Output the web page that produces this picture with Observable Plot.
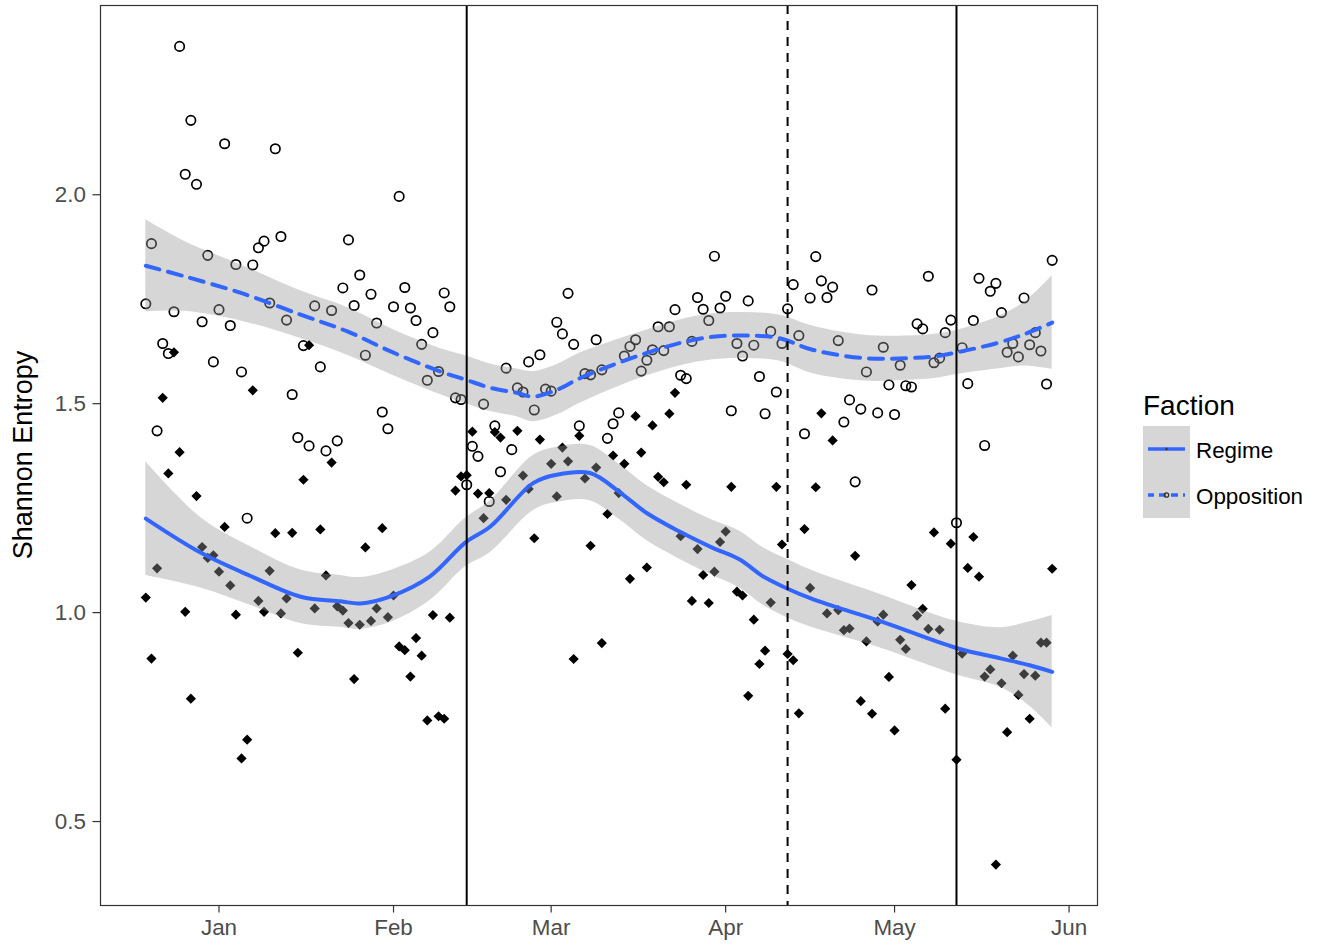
<!DOCTYPE html>
<html>
<head>
<meta charset="utf-8">
<script src="https://cdn.jsdelivr.net/npm/d3@7"></script>
<script src="https://cdn.jsdelivr.net/npm/@observablehq/plot@0.6"></script>
<style>
  html, body { margin: 0; padding: 0; background: white; }
  #chart { position: relative; width: 1331px; height: 946px; }
</style>
</head>
<body>
<div id="chart"></div>
<script>
// ---- Data (daily values, first day = 2012-12-19) ----
const firstDay = "2012-12-19";

const opposition = [
  1.739,1.883,1.435,1.644,1.620,1.720,2.355,2.049,2.178,2.025,
  1.696,1.855,1.600,1.725,2.122,1.687,1.833,1.576,1.226,1.832,
  1.873,1.889,1.741,2.110,1.900,1.700,1.522,1.419,1.639,1.399,
  1.734,1.588,1.387,1.723,1.411,1.777,1.892,1.735,1.808,1.616,
  1.762,1.693,1.480,1.440,1.732,1.996,1.778,1.729,1.699,1.642,
  1.556,1.670,1.577,1.765,1.732,1.514,1.510,1.306,1.398,1.374,
  1.499,1.266,1.447,1.337,1.585,1.390,1.538,1.528,1.600,1.485,
  1.617,1.535,1.530,1.695,1.667,1.764,1.642,1.447,1.572,1.569,
  1.653,1.581,1.417,1.452,1.478,1.614,1.637,1.653,1.578,1.604,
  1.629,1.684,1.627,1.684,1.725,1.568,1.560,1.649,1.754,1.726,
  1.699,1.853,1.729,1.757,1.483,1.644,1.614,1.746,1.640,1.565,
  1.476,1.673,1.528,1.644,1.727,1.785,1.663,1.428,1.753,1.852,
  1.794,1.754,1.779,1.651,1.456,1.509,1.313,1.487,1.576,1.772,
  1.478,1.635,1.545,1.474,1.592,1.543,1.540,1.691,1.679,1.805,
  1.598,1.609,1.670,1.700,1.215,1.634,1.548,1.699,1.800,1.400,
  1.769,1.788,1.718,1.623,1.644,1.612,1.753,1.641,1.670,1.626,
  1.547,1.843
];

const regime = [
  1.036,0.890,1.106,1.514,1.333,1.623,1.384,1.002,0.794,1.279,
  1.157,1.131,1.137,1.098,1.205,1.065,0.995,0.651,0.696,1.532,
  1.028,1.002,1.100,1.190,0.998,1.034,1.191,0.904,1.318,1.640,
  1.010,1.199,1.089,1.359,1.015,1.005,0.975,0.841,0.971,1.156,
  0.980,1.010,1.202,0.989,1.041,0.919,0.910,0.847,0.939,0.897,
  0.742,0.994,0.752,0.746,0.988,1.292,1.326,1.329,1.433,1.285,
  1.226,1.286,1.432,1.419,1.270,null,1.435,1.328,1.296,1.178,
  1.414,null,1.356,1.278,1.395,1.362,0.889,1.423,1.321,1.160,
  1.347,0.927,1.236,1.376,1.286,1.356,1.081,1.470,1.383,1.108,
  1.448,1.325,1.312,1.476,1.526,1.183,1.306,1.028,1.152,1.090,
  1.023,1.098,1.169,1.194,1.301,1.050,1.041,0.801,0.983,0.877,
  0.909,1.024,1.301,1.163,0.901,0.886,0.759,1.200,1.059,1.300,
  1.477,0.998,1.412,1.006,0.958,0.962,1.136,0.788,0.931,0.758,
  0.979,0.995,0.846,0.718,0.935,0.913,1.066,0.993,1.009,0.961,
  1.192,0.959,0.770,1.165,0.648,0.902,1.107,1.181,1.086,0.847,
  0.864,0.397,0.831,0.714,0.897,0.803,0.853,0.746,0.849,0.928,
  0.928,1.105
];

// Smoothed (loess) curves: day offset, fit, lower, upper
const oppSmoothDay = [0,6.8,16.9,27.5,35.8,43.5,52.3,56.9,61.2,65.9,68.8,73,77.1,83,88.9,94.8,100.7,106.6,112.5,118.4,127.6,135.3,140,144.1,151.2,156,161];
const oppSmoothFit = [1.830,1.805,1.765,1.713,1.673,1.625,1.577,1.557,1.538,1.526,1.517,1.533,1.561,1.593,1.621,1.645,1.660,1.663,1.657,1.629,1.609,1.609,1.613,1.623,1.645,1.666,1.694];
const oppSmoothLo  = [1.720,1.721,1.698,1.656,1.616,1.570,1.522,1.500,1.481,1.469,1.457,1.473,1.501,1.536,1.566,1.590,1.605,1.608,1.602,1.572,1.554,1.556,1.560,1.570,1.583,1.590,1.582];
const oppSmoothHi  = [1.940,1.889,1.832,1.770,1.730,1.680,1.632,1.614,1.595,1.583,1.577,1.593,1.621,1.650,1.676,1.700,1.715,1.718,1.712,1.686,1.664,1.662,1.666,1.676,1.707,1.742,1.806];

const regSmoothDay = [0,9.8,18.7,27.5,34.6,38.1,43.5,50.5,56.7,61.2,68.8,73,78.9,84.2,88.9,94.8,100.7,105.5,109.6,113.7,118.7,130.6,143.8,152,157,161];
const regSmoothFit = [1.225,1.143,1.087,1.038,1.027,1.022,1.039,1.087,1.167,1.206,1.310,1.330,1.334,1.288,1.239,1.194,1.155,1.127,1.087,1.059,1.031,0.979,0.916,0.890,0.874,0.858];
const regSmoothLo  = [1.089,1.059,1.017,0.974,0.965,0.960,0.977,1.029,1.109,1.144,1.244,1.264,1.268,1.222,1.173,1.128,1.089,1.059,1.018,0.989,0.963,0.915,0.852,0.820,0.776,0.724];
const regSmoothHi  = [1.361,1.227,1.157,1.102,1.089,1.084,1.101,1.145,1.225,1.268,1.376,1.396,1.400,1.354,1.305,1.260,1.221,1.195,1.156,1.129,1.099,1.043,0.980,0.964,0.978,0.993];

// Event lines
const eventDates = ["2013-02-14","2013-04-12","2013-05-12"];
const eventDashed = [false, true, false];

// Axis ticks
const monthTicks = ["2013-01-01","2013-02-01","2013-03-01","2013-04-01","2013-05-01","2013-06-01"];
const yTicks = [0.5, 1.0, 1.5, 2.0];

// Legend
const legendTitle = "Faction";
const legendLabels = ["Regime", "Opposition"];

// ---- Build tables ----
const t0 = new Date(firstDay + "T00:00:00Z").getTime();
const DAY = 864e5;
const dayDate = (d) => new Date(t0 + d * DAY);

const oppPts = opposition.map((v, i) => ({date: dayDate(i), value: v}));
const regPts = regime.map((v, i) => ({date: dayDate(i), value: v})).filter(d => d.value != null);

const oppSmooth = oppSmoothDay.map((d, i) => ({date: dayDate(d), fit: oppSmoothFit[i], lo: oppSmoothLo[i], hi: oppSmoothHi[i]}));
const regSmooth = regSmoothDay.map((d, i) => ({date: dayDate(d), fit: regSmoothFit[i], lo: regSmoothLo[i], hi: regSmoothHi[i]}));

const events = eventDates.map((s, i) => ({date: new Date(s + "T00:00:00Z"), dashed: eventDashed[i]}));

// ggplot-like 5% expansion of the data range
const nDays = opposition.length - 1;
const xPad = nDays * 0.05;
const xDomain = [dayDate(-xPad), dayDate(nDays + xPad)];
const allVals = opposition.concat(regime).filter(v => v != null);
const [ymin, ymax] = d3.extent(allVals);
const yPad = (ymax - ymin) * 0.05;
const yDomain = [ymin - yPad, ymax + yPad];

const FONT = "'Liberation Sans', Arial, Helvetica, sans-serif";
const BLUE = "#3366FF";

const chart = Plot.plot({
  width: 1331,
  height: 946,
  marginLeft: 100,
  marginRight: 234,
  marginTop: 5,
  marginBottom: 41,
  style: {fontFamily: FONT, background: "white", overflow: "visible"},
  x: {type: "utc", domain: xDomain},
  y: {domain: yDomain},
  marks: [
    Plot.dot(oppPts, {x: "date", y: "value", r: 4.7, stroke: "black", strokeWidth: 1.7, fill: "none"}),
    Plot.dot(regPts, {x: "date", y: "value", r: 4.6, symbol: "diamond2", fill: "black", stroke: "none"}),
    Plot.areaY(regSmooth, {x: "date", y1: "lo", y2: "hi", fill: "#999999", fillOpacity: 0.4, curve: "catmull-rom"}),
    Plot.line(regSmooth, {x: "date", y: "fit", stroke: BLUE, strokeWidth: 4, curve: "catmull-rom"}),
    Plot.areaY(oppSmooth, {x: "date", y1: "lo", y2: "hi", fill: "#999999", fillOpacity: 0.4, curve: "catmull-rom"}),
    Plot.line(oppSmooth, {x: "date", y: "fit", stroke: BLUE, strokeWidth: 4, strokeDasharray: "14,9", curve: "catmull-rom"}),
    Plot.ruleX(events.filter(e => !e.dashed), {x: "date", stroke: "black", strokeWidth: 2}),
    Plot.ruleX(events.filter(e => e.dashed), {x: "date", stroke: "black", strokeWidth: 2, strokeDasharray: "9,7"}),
    Plot.frame({stroke: "#333333", strokeWidth: 1.2}),
    Plot.axisX({
      ticks: monthTicks.map(s => new Date(s + "T00:00:00Z")),
      tickFormat: d3.utcFormat("%b"),
      tickSize: 7.5, tickPadding: 6, fontSize: 22.4,
      stroke: "#333333", fill: "#4d4d4d", strokeWidth: 1.2, label: null
    }),
    Plot.axisY({
      ticks: yTicks,
      tickFormat: d3.format(".1f"),
      tickSize: 7.5, tickPadding: 7, fontSize: 22.4,
      stroke: "#333333", fill: "#4d4d4d", strokeWidth: 1.2, label: null
    })
  ]
});

document.getElementById("chart").appendChild(chart);

// ---- Axis title and legend ----
const svg = d3.select(chart);
svg.append("text")
  .attr("transform", "translate(32,455) rotate(-90)")
  .attr("text-anchor", "middle")
  .attr("font-family", FONT)
  .attr("font-size", 27)
  .attr("fill", "black")
  .text("Shannon Entropy");

const lg = svg.append("g").attr("font-family", FONT).attr("text-anchor", "start");
lg.append("text").attr("x", 1143).attr("y", 415).attr("font-size", 28).attr("fill", "black").text(legendTitle);
lg.append("rect").attr("x", 1143).attr("y", 426).attr("width", 47).attr("height", 92)
  .attr("fill", "#999999").attr("fill-opacity", 0.4);

legendLabels.forEach((label, i) => {
  const cy = 449 + i * 46;
  const ln = lg.append("line").attr("x1", 1148).attr("x2", 1185).attr("y1", cy).attr("y2", cy)
    .attr("stroke", BLUE).attr("stroke-width", 3.4);
  if (i === 1) {
    ln.attr("stroke-dasharray", "7,5").attr("stroke-dashoffset", 1);
    lg.append("circle").attr("cx", 1166.5).attr("cy", cy).attr("r", 2.2)
      .attr("fill", "none").attr("stroke", "#333").attr("stroke-width", 1.3);
  } else {
    lg.append("path").attr("d", d3.symbol(d3.symbolDiamond2, 6)()).attr("transform", `translate(1166.5,${cy})`)
      .attr("fill", "#333");
  }
  lg.append("text").attr("x", 1196).attr("y", cy + 8.5).attr("font-size", 22.4).attr("fill", "black").text(label);
});
</script>
</body>
</html>
